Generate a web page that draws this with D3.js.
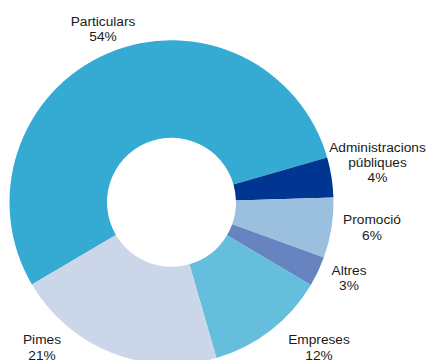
<!DOCTYPE html>
<html>
<head>
<meta charset="utf-8">
<script src="https://cdn.jsdelivr.net/npm/d3@7"></script>
<style>
  html, body { margin: 0; padding: 0; background: #fff; }
  svg { display: block; }
</style>
</head>
<body>
<svg id="chart" width="428" height="360"></svg>
<script>
// Customer segments, share of total (%)
const categories = ["Particulars", "Administracions públiques", "Promoció", "Altres", "Empreses", "Pimes"];
const labelLines = [["Particulars"], ["Administracions", "públiques"], ["Promoció"], ["Altres"], ["Empreses"], ["Pimes"]];
const values = [54, 4, 6, 3, 12, 21];
const colors = ["#35abd4", "#003591", "#9abfdf", "#6884c0", "#66bedd", "#cbd6e8"];

// Layout
const width = 428, height = 360;
const cx = 171.5, cy = 202.3;
const outerR = 162, innerR = 64.5;
const startDeg = -120.5;
const lineGap = 15.3;
// label anchor: centre x, first baseline y
const labelAnchors = [[103, 25.5], [377.5, 151.6], [372, 224.4], [349, 274.8], [319, 344.3], [42, 344.2]];

const svg = d3.select("#chart");
const g = svg.append("g").attr("transform", `translate(${cx},${cy})`);

const data = categories.map((c, i) => ({ name: c, value: values[i], i }));

const pie = d3.pie()
  .value(d => d.value)
  .sort(null)
  .startAngle(startDeg * Math.PI / 180)
  .endAngle(startDeg * Math.PI / 180 + 2 * Math.PI);

const arc = d3.arc().innerRadius(innerR).outerRadius(outerR);

g.selectAll("path.slice")
  .data(pie(data))
  .join("path")
  .attr("class", "slice")
  .attr("d", arc)
  .attr("fill", d => colors[d.data.i]);

const labels = svg.append("g")
  .attr("font-family", "'Liberation Sans', Arial, sans-serif")
  .attr("font-size", "13.7px")
  .attr("fill", "#1a1a1a")
  .attr("text-anchor", "middle");

data.forEach((d, i) => {
  const [lx, ly] = labelAnchors[i];
  const t = labels.append("text").attr("x", lx).attr("y", ly);
  const lines = labelLines[i].concat([d.value + "%"]);
  lines.forEach((ln, k) => {
    t.append("tspan").attr("x", lx).attr("y", ly + k * lineGap).text(ln);
  });
});
</script>
</body>
</html>
